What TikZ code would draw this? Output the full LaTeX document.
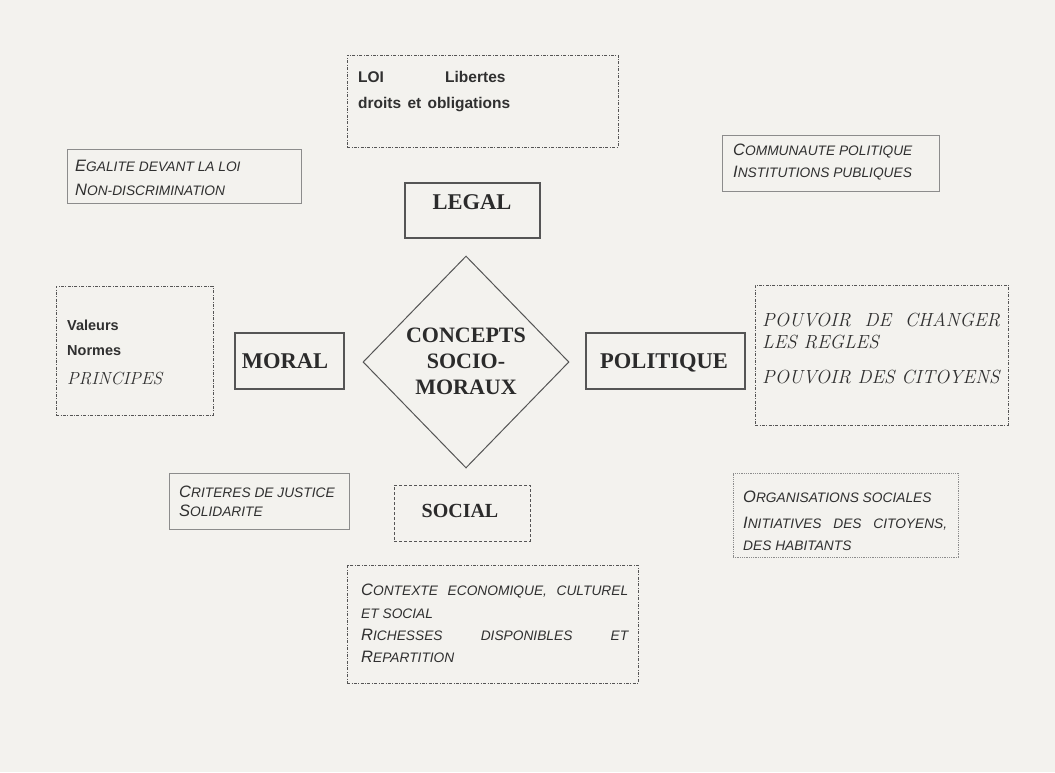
\documentclass[tikz,border=0pt]{standalone}
\usepackage{fontspec}
\newfontfamily\arial{Liberation Sans}
\newfontfamily\tnrfont{Liberation Serif}
\usetikzlibrary{shapes.geometric,fit}
\definecolor{paper}{HTML}{F3F2EE}
\definecolor{ink}{HTML}{303030}
\definecolor{frame}{HTML}{555555}
\definecolor{thin}{HTML}{8C8C8C}
\newcommand\smc[2]{{\fontsize{16.5}{18}\selectfont #1}{\fontsize{13.75}{15}\selectfont #2}}
\begin{document}
\begin{tikzpicture}[x=1pt,y=-1pt,
  headbox/.style={draw=frame, line width=1.1pt, inner sep=0},
  lightbox/.style={draw=thin, line width=0.6pt, inner sep=0},
  dashdotbox/.style={draw=frame, line width=0.7pt, dash pattern=on 3pt off 1.5pt on 0.8pt off 1.5pt, inner sep=0},
  dashbox/.style={draw=frame, line width=0.9pt, dash pattern=on 3pt off 2pt, inner sep=0},
  dotbox/.style={draw=thin, line width=0.7pt, dash pattern=on 0.8pt off 1pt, inner sep=0},
  txt/.style={anchor=base west, inner sep=0, text=ink},
  boldsans/.style={txt, font=\arial\bfseries\fontsize{15.5}{17}\selectfont},
  scsans/.style={txt, font=\arial\itshape},
  itserif/.style={txt, font=\itshape\fontsize{19}{21}\selectfont},
  head/.style={anchor=base, inner sep=0, text=ink!90!black, font=\tnrfont\bfseries\fontsize{22.5}{24}\selectfont}]
\useasboundingbox (0,0) rectangle (1055,772);
\fill[paper] (0,0) rectangle (1055,772);

% boxes
\node[dashdotbox, fit={(347,55) (618,147)}] (loibox) {};
\node[lightbox, fit={(67,149) (301,203)}] (egabox) {};
\node[lightbox, fit={(722,135) (939,191)}] (combox) {};
\node[headbox, fit={(405,183) (540,238)}] (legalbox) {};
\node[headbox, fit={(235,333) (344,389)}] (moralbox) {};
\node[headbox, fit={(586,333) (745,389)}] (polbox) {};
\node[dashdotbox, fit={(56,286) (213,415)}] (valbox) {};
\node[dashdotbox, fit={(755,285) (1008,425)}] (pouvbox) {};
\node[lightbox, fit={(169,473) (349,529)}] (critbox) {};
\node[dashbox, fit={(394,485) (530,541)}] (socbox) {};
\node[dotbox, fit={(733,473) (958,557)}] (orgbox) {};
\node[dashdotbox, fit={(347,565) (638,683)}] (ctxbox) {};
\node[draw=frame, line width=1pt, shape=diamond, minimum width=206pt, minimum height=212pt, inner sep=0] (core) at (466,362) {};

% headings
\node[head] (legal) at (472,209) {LEGAL};
\node[head] (moral) at (285,368) {MORAL};
\node[head] (politique) at (664,368) {POLITIQUE};
\node[head, font=\tnrfont\bfseries\fontsize{20}{22}\selectfont] (social) at (460,517) {SOCIAL};
\node[head, font=\tnrfont\bfseries\fontsize{22}{24}\selectfont] (c1) at (466,342) {CONCEPTS};
\node[head, font=\tnrfont\bfseries\fontsize{22}{24}\selectfont] (c2) at (466,368) {SOCIO-};
\node[head, font=\tnrfont\bfseries\fontsize{22}{24}\selectfont] (c3) at (466,394) {MORAUX};

% LOI box
\node[boldsans] (loi) at (358,82) {LOI};
\node[boldsans] (lib) at (445,82) {Libertes};
\node[boldsans] (droits) at (358,108) {\makebox[152pt][s]{droits et obligations}};

% Egalite box
\node[scsans] (ega1) at (75,171) {\smc{E}{GALITE DEVANT LA LOI}};
\node[scsans] (ega2) at (75,195) {\smc{N}{ON-DISCRIMINATION}};

% Communaute box
\node[scsans] (com1) at (733,155) {\smc{C}{OMMUNAUTE POLITIQUE}};
\node[scsans] (com2) at (733,177) {\smc{I}{NSTITUTIONS PUBLIQUES}};

% Valeurs box
\node[boldsans, font=\arial\bfseries\fontsize{14.5}{16}\selectfont] (val1) at (67,330) {Valeurs};
\node[boldsans, font=\arial\bfseries\fontsize{14.5}{16}\selectfont] (val2) at (67,355) {Normes};
\node[itserif, font=\itshape\fontsize{17.5}{20}\selectfont] (val3) at (67,384) {PRINCIPES};

% Pouvoir box
\node[itserif] (pv1) at (762,326) {\makebox[238pt][s]{POUVOIR DE CHANGER}};
\node[itserif] (pv2) at (762,348) {LES REGLES};
\node[itserif] (pv3) at (762,383) {POUVOIR DES CITOYENS};

% Criteres box
\node[scsans] (cr1) at (179,497) {\smc{C}{RITERES DE JUSTICE}};
\node[scsans] (cr2) at (179,516) {\smc{S}{OLIDARITE}};

% Organisations box
\node[scsans] (org1) at (743,502) {\smc{O}{RGANISATIONS SOCIALES}};
\node[scsans] (org2) at (743,528) {\makebox[204pt][s]{\smc{I}{NITIATIVES} \smc{}{DES} \smc{}{CITOYENS,}}};
\node[scsans] (org3) at (743,550) {\smc{}{DES HABITANTS}};

% Contexte box
\node[scsans] (ctx1) at (361,595) {\makebox[267pt][s]{\smc{C}{ONTEXTE} \smc{}{ECONOMIQUE,} \smc{}{CULTUREL}}};
\node[scsans] (ctx2) at (361,618) {\smc{}{ET SOCIAL}};
\node[scsans] (ctx3) at (361,640) {\makebox[267pt][s]{\smc{R}{ICHESSES} \smc{}{DISPONIBLES} \smc{}{ET}}};
\node[scsans] (ctx4) at (361,662) {\smc{R}{EPARTITION}};
\end{tikzpicture}
\end{document}
